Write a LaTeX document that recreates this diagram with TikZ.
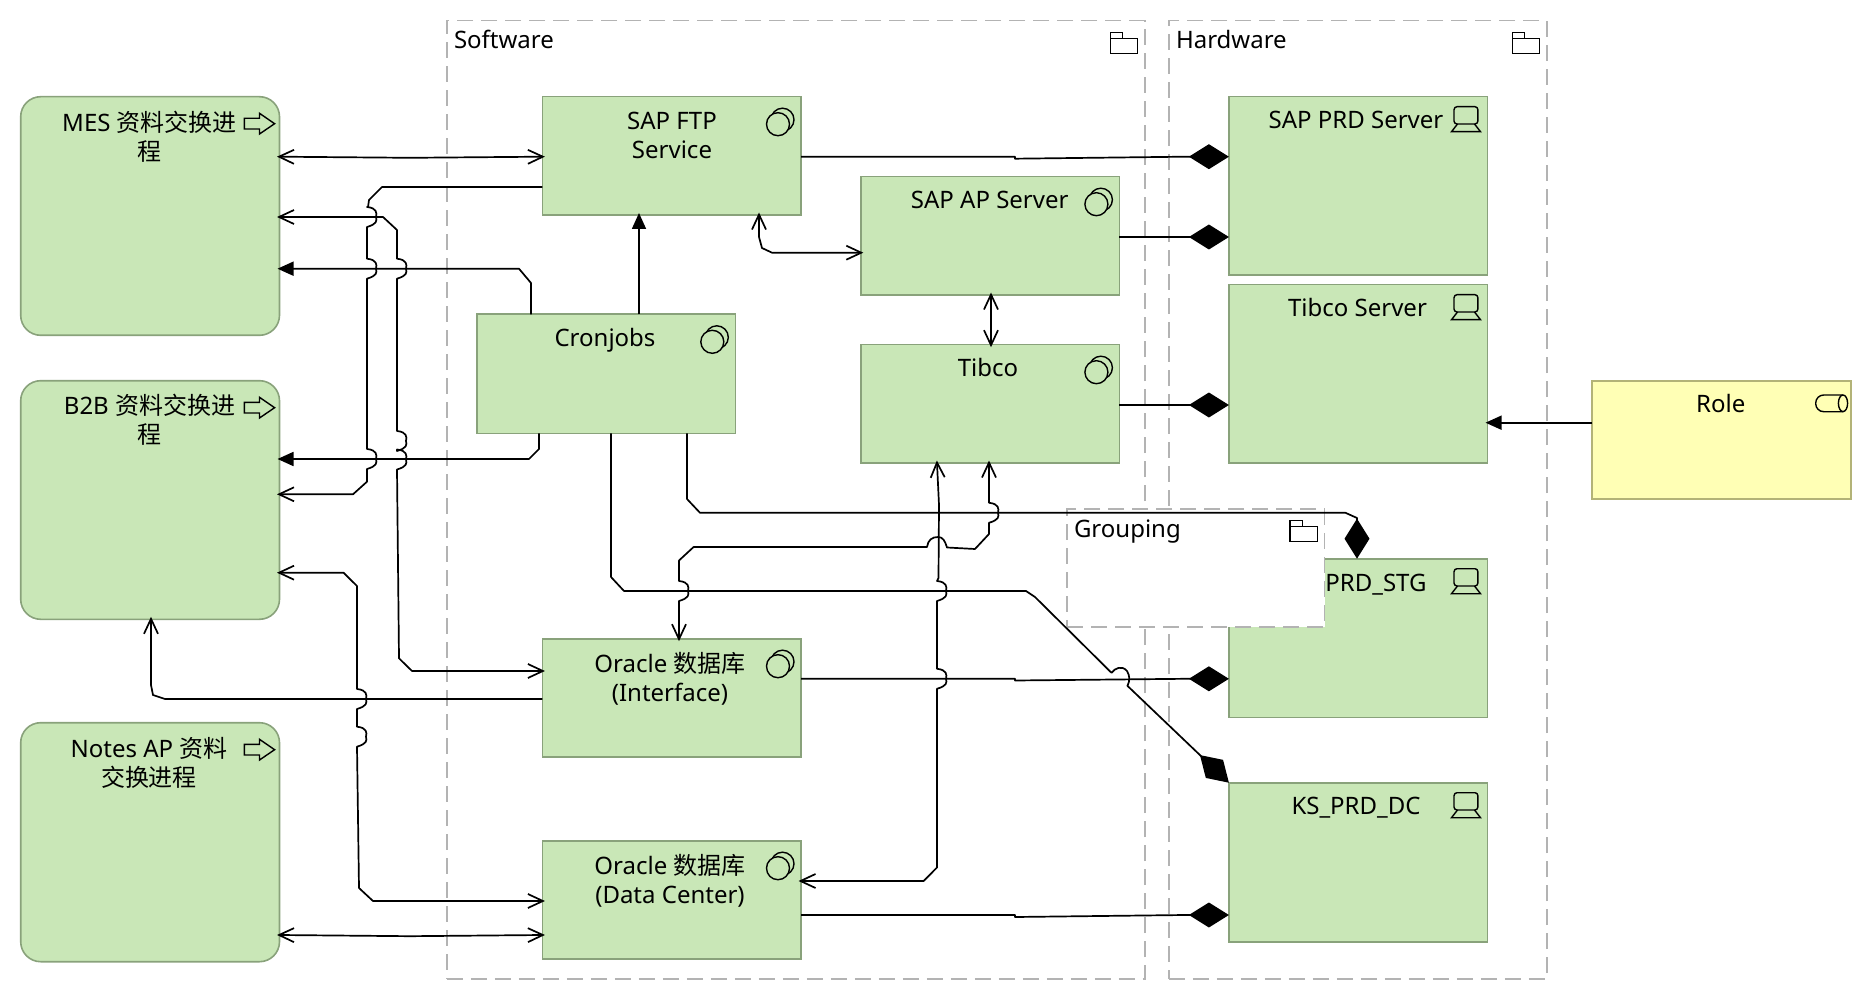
\documentclass[tikz,border=0pt]{standalone}
\usepackage{fontspec}
\setmainfont{Noto Sans}
\newfontfamily\cjk{Noto Sans CJK SC}
\usetikzlibrary{arrows.meta}
\definecolor{boxfill}{HTML}{C9E7B7}
\definecolor{boxline}{HTML}{89A27B}
\definecolor{rolefill}{HTML}{FFFFB5}
\definecolor{roleline}{HTML}{B3B377}
\definecolor{grpline}{HTML}{B3B3B3}
\newcommand\vbump[2]{-- (#1,#2-10) .. controls (#1+10,#2-9) and (#1+10,#2-4) .. (#1+9,#2) .. controls (#1+10,#2+4) and (#1+10,#2+7) .. (#1,#2+10)}
\tikzset{
  x=1pt,y=-1pt,
  barb/.tip={Straight Barb[length=15pt,width=14pt,sep=-2.5pt]},
  tri/.tip={Triangle[length=16pt,width=14pt,sep=-2pt]},
  dia/.tip={Diamond[length=40pt,width=25pt]},
  box/.style={rectangle,draw=boxline,fill=boxfill,line width=1.6pt,inner sep=0pt,outer sep=0pt,anchor=north west},
  comp/.style={box,minimum width=258.6pt,minimum height=118.3pt},
  tall/.style={box,minimum width=258.6pt,minimum height=#1},
  proc/.style={box,rounded corners=20pt,minimum width=258.8pt,minimum height=238.6pt},
  rolebox/.style={box,draw=roleline,fill=rolefill,minimum width=259pt,minimum height=118.3pt},
  grp/.style={rectangle,draw=grpline,fill=white,line width=1.5pt,dash pattern=on 16pt off 8pt,inner sep=0pt,outer sep=0pt,anchor=north west},
  lbl/.style={inner sep=0pt,outer sep=0pt,align=center,font=\fontsize{24}{29}\selectfont,text=black},
  one/.style={lbl,text height=16.8pt,text depth=0pt},
  conn/.style={draw=black,line width=1.7pt,line join=round},
  icon/.style={draw=black,line width=1.4pt,line join=miter},
  collab/.pic={
    \draw[icon] (-18.5,23) circle[radius=11.5pt];
    \draw[icon,fill=boxfill] (-23,27.5) circle[radius=11.5pt];
  },
  device/.pic={
    \draw[icon,rounded corners=3pt] (-33.5,10) rectangle (-9.6,27.3);
    \draw[icon] (-30,27.3) -- (-36,35) -- (-7,35) -- (-13,27.3);
  },
  procicon/.pic={
    \draw[icon] (-35.2,21.6) -- (-20,21.6) -- (-20,16.6) -- (-4.9,27) -- (-20,37.3) -- (-20,32.3) -- (-35.2,32.3) -- cycle;
  },
  folder/.pic={
    \draw[icon] (-34.6,17.6) rectangle (-7.3,32.6);
    \draw[icon] (-34.6,17.6) -- (-34.6,11.6) -- (-22.3,11.6) -- (-22.3,17.6);
  },
  roleicon/.pic={
    \draw[icon,rounded corners=8pt] (-8.2,14.3) -- (-35.5,14.3) -- (-35.5,31) -- (-8.2,31);
    \draw[icon] (-8.2,22.6) ellipse[x radius=4.6pt,y radius=8.3pt];
  },
}
\begin{document}
\begin{tikzpicture}
\useasboundingbox (0,0) rectangle (1872,1000);
\fill[white] (0,0) rectangle (1872,1000);

% groups
\node[grp,minimum width=698pt,minimum height=958.3pt] (software) at (446.9,20.7) {};
\node[grp,minimum width=378pt,minimum height=958.3pt] (hardware) at (1168.8,20.7) {};
\pic at (software.north east) {folder};
\pic at (hardware.north east) {folder};
\node[one,anchor=west] (softwaret) at (454,40.5) {Software};
\node[one,anchor=west] (hardwaret) at (1176,40.5) {Hardware};

% boxes
\node[proc] (mes) at (20.7,96.7) {};
\node[proc] (b2b) at (20.7,380.7) {};
\node[proc,minimum height=239pt] (notes) at (20.7,722.7) {};
\node[comp] (ftp) at (542.4,96.7) {};
\node[comp,minimum height=119pt] (cron) at (476.7,314.3) {};
\node[comp] (ap) at (860.8,176.7) {};
\node[comp] (tib) at (860.8,344.7) {};
\node[comp] (oi) at (542.4,638.7) {};
\node[comp] (dc) at (542.4,840.7) {};
\node[tall=178.3pt] (prd) at (1228.9,96.7) {};
\node[tall=178.3pt] (ts) at (1228.9,284.7) {};
\node[tall=158.6pt] (stg) at (1228.9,558.7) {};
\node[tall=159pt] (ks) at (1228.9,782.7) {};
\node[rolebox] (role) at (1592.2,380.7) {};

% icons
\pic at (mes.north east) {procicon};
\pic at (b2b.north east) {procicon};
\pic at (notes.north east) {procicon};
\pic at (ftp.north east) {collab};
\pic at (cron.north east) {collab};
\pic at (ap.north east) {collab};
\pic at (tib.north east) {collab};
\pic at (oi.north east) {collab};
\pic at (dc.north east) {collab};
\pic at (prd.north east) {device};
\pic at (ts.north east) {device};
\pic at (stg.north east) {device};
\pic at (ks.north east) {device};
\pic at (role.north east) {roleicon};

% labels
\node[lbl] (mest) at (149.5,136.5) {MES {\cjk 资料交换进}\\{\cjk 程}};
\node[lbl] (b2bt) at (149.5,420) {B2B {\cjk 资料交换进}\\{\cjk 程}};
\node[lbl] (notest) at (149,763) {Notes AP {\cjk 资料}\\{\cjk 交换进程}};
\node[lbl] (ftpt) at (672,135) {SAP FTP\\Service};
\node[one] (cront) at (605,338.5) {Cronjobs};
\node[one] (apt) at (989.7,200.5) {SAP AP Server};
\node[one] (tibt) at (988,368.5) {Tibco};
\node[lbl] (oit) at (670,679) {Oracle {\cjk 数据库}\\(Interface)};
\node[lbl] (dct) at (670,881) {Oracle {\cjk 数据库}\\(Data Center)};
\node[one] (prdt) at (1356,120.5) {SAP PRD Server};
\node[one] (tst) at (1357.5,308) {Tibco Server};
\node[one] (stgt) at (1376,583) {PRD\_STG};
\node[one] (kst) at (1356,806.5) {KS\_PRD\_DC};
\node[one] (rolet) at (1720.7,404.5) {Role};

% grouping covers what lies below it
\node[grp,minimum width=257.5pt,minimum height=118pt] (grouping) at (1067,509) {};
\pic at (grouping.north east) {folder};
\node[one,anchor=west] (groupingt) at (1074,529) {Grouping};

% connectors
\draw[conn,barb-barb] (mes.east |- 0,156.7) -- (410,157.8) -- (ftp.west |- 0,156.7);
\draw[conn,-barb] (ftp.west |- 0,187) -- (382,187) -- (369,200) -- (368,207) \vbump{367}{217} \vbump{367}{268.7} \vbump{367}{459} -- (367,481.7) -- (353,494.3) -- (b2b.east |- 0,494.3);
\draw[conn,barb-barb] (mes.east |- 0,217) -- (383,217) -- (397,230) \vbump{397}{268.7} \vbump{397}{441} \vbump{397}{459.5} -- (399,658.3) -- (412,671) -- (oi.west |- 0,671);
\draw[conn,-tri] (cron.north -| 531,0) -- (531,283) -- (519,268.7) -- (mes.east |- 0,268.7);
\draw[conn,-tri] (cron.south -| 539,0) -- (539,449) -- (529,459) -- (b2b.east |- 0,459);
\draw[conn,barb-barb] (b2b.east |- 0,572.7) -- (343.5,572.7) -- (357,586) \vbump{357}{699} \vbump{357}{736.7} -- (359,888) -- (373,901) -- (dc.west |- 0,901);
\draw[conn,-barb] (oi.west |- 0,699) -- (165,699) -- (153,695) -- (151,685) -- (b2b.south -| 151,0);
\draw[conn,barb-barb] (notes.east |- 0,935) -- (410,936.2) -- (dc.west |- 0,935);
\draw[conn,-tri] (cron.north -| 639,0) -- (ftp.south -| 639,0);
\draw[conn,barb-barb] (ftp.south -| 759,0) -- (759,237) -- (762,248) -- (772,252.7) -- (ap.west |- 0,252.7);
\draw[conn,barb-barb] (ap.south -| 991,0) -- (tib.north -| 991,0);
\draw[conn,-dia] (ftp.east |- 0,156.7) -- (1015,156.7) -- (1015,158.7) -- (1185,156.7) -- (prd.west |- 0,156.7);
\draw[conn,-dia] (ap.east |- 0,237) -- (prd.west |- 0,237);
\draw[conn,-dia] (tib.east |- 0,405) -- (ts.west |- 0,405);
\draw[conn,-tri] (role.west |- 0,422.7) -- (ts.east |- 0,422.7);
\draw[conn,-dia] (oi.east |- 0,678.8) -- (1015,678.8) -- (1015,680.5) -- (1185,678.8) -- (stg.west |- 0,678.8);
\draw[conn,-dia] (dc.east |- 0,915) -- (1015,915) -- (1015,917) -- (1185,915) -- (ks.west |- 0,915);
\draw[conn,-dia] (cron.south -| 611,0) -- (611,577) -- (624,591) -- (1026,591) -- (1035,597) -- (1111.5,672.8) .. controls (1115,668) and (1122,665) .. (1127,671) .. controls (1130,676) and (1130,681) .. (1127.4,685.8) -- (ks.north west);
\draw[conn,-dia] (cron.south -| 687,0) -- (687,499) -- (700,512.8) -- (1345.5,512.8) -- (1357,518) -- (stg.north -| 1357,0);
\draw[conn,barb-barb] (tib.south -| 989,0) \vbump{989}{512.8} -- (989,534) -- (975,549) -- (947,547.5) .. controls (945,541) and (943,537) .. (938,537) .. controls (932,537) and (928,540) .. (927,547) -- (693.6,547) -- (679,560.5) \vbump{679}{591} -- (oi.north -| 679,0);
\draw[conn,barb-barb] (tib.south -| 937,0) -- (939,505) -- (938.5,578) -- (937,581) \vbump{937}{591} \vbump{937}{678.8} -- (937,867.5) -- (923.6,881) -- (dc.east |- 0,881);
\end{tikzpicture}
\end{document}
